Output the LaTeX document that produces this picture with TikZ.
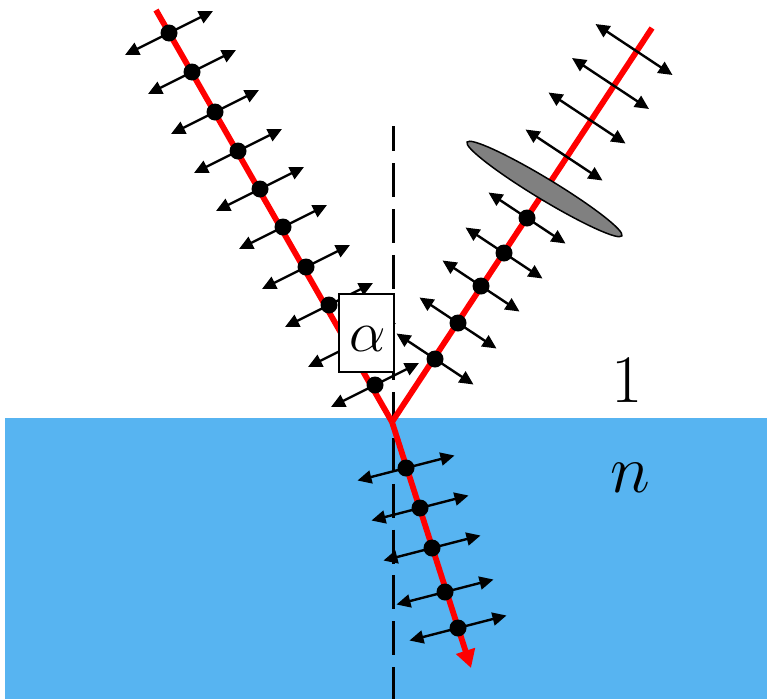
\RequirePackage{fix-cm}
\documentclass[tikz,border=0pt]{standalone}
\usetikzlibrary{arrows.meta,calc}
\definecolor{water}{RGB}{87,180,241}
\definecolor{raycol}{RGB}{255,0,0}
\definecolor{platecol}{RGB}{128,128,128}
\begin{document}
\begin{tikzpicture}[x=1pt,y=-1pt,
  ray/.style={raycol,line width=5.8pt},
  pol/.style={line width=2.4pt,{Triangle[length=14pt,width=13pt]}-{Triangle[length=14pt,width=13pt]}},
  dot/.style={circle,fill=black,inner sep=0pt,minimum size=17pt},
  biglabel/.style={font=\fontsize{68}{68}\selectfont,inner sep=0pt}]
\useasboundingbox (0,0) rectangle (767,699);
% water
\fill[water] (5,418) rectangle (767,699);
% normal
\coordinate (N1) at (393,126);
\coordinate (N2) at (393,699);
\draw[line width=3pt,dash pattern=on 34pt off 11.8pt,dash phase=8.6pt] (N1) -- (N2);
% rays
\coordinate (O) at (392,422);
\coordinate (A) at (156,10);
\coordinate (R) at (652,28);
\coordinate (T) at (471,668);
\draw[ray] (A) -- (O);
\draw[ray] (O) -- (R);
\draw[ray,-{Triangle[length=18pt,width=19pt]}] (O) -- (T);
% incident polarisation
\foreach \x/\y [count=\i] in {169/33,192/72,215/112,238/151,260/189,283/227,306/267,329/305,352/345,375/385}{
  \coordinate (i\i) at (\x,\y);
  \draw[pol] ($(i\i)+(-44,22)$) -- ($(i\i)+(44,-22)$);
  \node[dot] (di\i) at (i\i) {};
}
% reflected polarisation with dots
\foreach \x/\y [count=\i] in {435/359,458/323,481/286,504/253,527/218}{
  \coordinate (r\i) at (\x,\y);
  \draw[pol] ($(r\i)+(-38.5,-25.5)$) -- ($(r\i)+(38.5,25.5)$);
  \node[dot] (dr\i) at (r\i) {};
}
% reflected polarisation after the polariser
\foreach \x/\y [count=\i] in {564/155,587/118,610.5/83.5,634/49.5}{
  \coordinate (p\i) at (\x,\y);
  \draw[pol] ($(p\i)+(-38.5,-25.5)$) -- ($(p\i)+(38.5,25.5)$);
}
% refracted polarisation
\foreach \x/\y [count=\i] in {406/468,420/508,432/548,445/592,458/628}{
  \coordinate (t\i) at (\x,\y);
  \draw[pol] ($(t\i)+(-48.5,12.5)$) -- ($(t\i)+(48.5,-12.5)$);
  \node[dot] (dt\i) at (t\i) {};
}
% polariser
\coordinate (E) at (544.5,189);
\filldraw[fill=platecol,draw=black,line width=1.5pt,rotate around={-31.2:(E)}] (E) ellipse [x radius=90.5pt,y radius=10.5pt];
% angle box
\node[draw,line width=1.6pt,fill=white,minimum width=55pt,minimum height=78pt,inner sep=0pt] (box) at (366.5,333) {};
\node[font=\fontsize{58}{58}\selectfont,inner sep=0pt] (alpha) at (367.5,339) {$\alpha$};
% media labels
\node[biglabel] (one) at (627.5,380) {1};
\node[biglabel] (nlab) at (630,478) {$n$};
\end{tikzpicture}
\end{document}
